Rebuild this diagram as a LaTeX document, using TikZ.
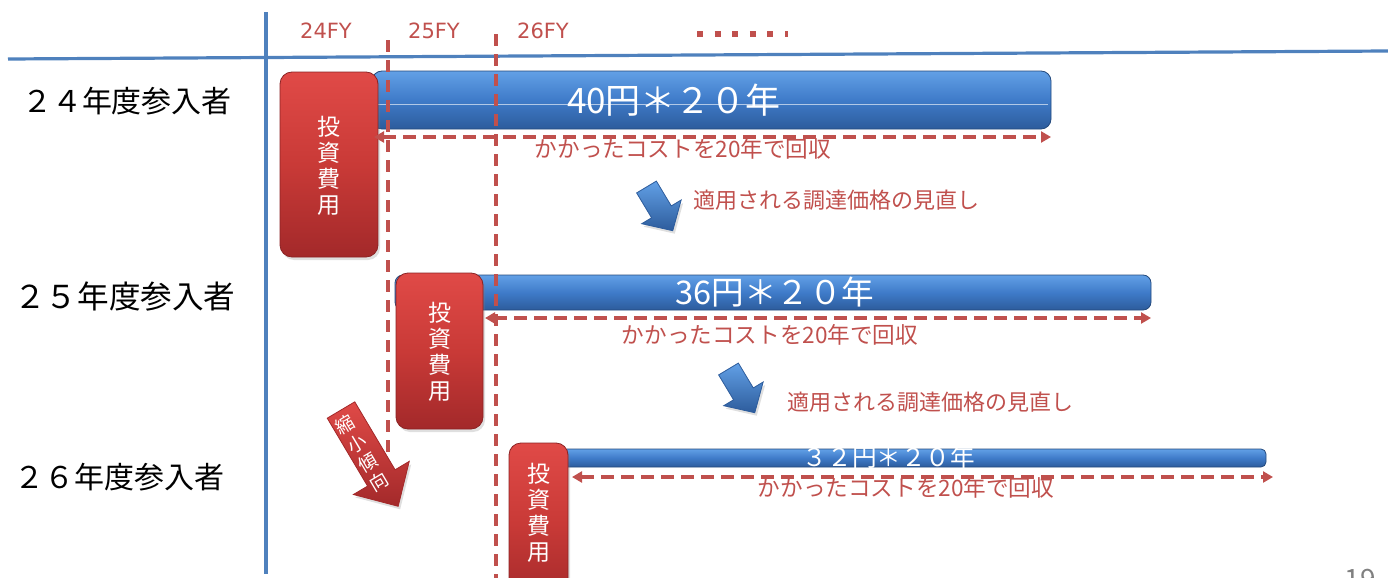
\documentclass[tikz,border=0pt]{standalone}
\usepackage{fontspec}
\setmainfont{Noto Sans CJK JP}
\newfontfamily\fyfont{DejaVu Sans}
\usetikzlibrary{arrows.meta,shadows}
\definecolor{axisblue}{HTML}{4F81BD}
\definecolor{accred}{HTML}{C0504D}
\definecolor{bartop}{HTML}{62A0E6}
\definecolor{barmid}{HTML}{3F7BC9}
\definecolor{barbot}{HTML}{2D5C9C}
\definecolor{boxtop}{HTML}{E04A47}
\definecolor{boxmid}{HTML}{C93A37}
\definecolor{boxbot}{HTML}{A3292A}
\begin{document}
\begin{tikzpicture}[x=0.5pt,y=-0.5pt,
  axisline/.style={draw=axisblue,line width=1.6pt},
  yearline/.style={draw=accred,line width=1.6pt,dash pattern=on 6pt off 4pt},
  costarrow/.style={draw=accred,line width=1.6pt,dash pattern=on 6.5pt off 3.5pt,{Triangle[length=5pt,width=5.5pt]}-{Triangle[length=5pt,width=5.5pt]}},
  rowlabel/.style={font=\fontsize{15}{18}\selectfont,text=black},
  fylabel/.style={font=\fyfont\fontsize{10.5}{12}\selectfont,text=accred},
  costtext/.style={font=\fontsize{11.3}{13}\selectfont,text=accred},
  reviewtext/.style={font=\fontsize{11}{13}\selectfont,text=accred,anchor=west},
  bartext/.style={font=\fontsize{17.5}{19}\selectfont,text=white},
  investtext/.style={font=\fontsize{11.5}{13}\selectfont,text=white,align=center},
  barfill/.style={top color=bartop,bottom color=barbot,middle color=barmid,draw=barbot!80!black,line width=0.4pt},
  boxfill/.style={top color=boxtop,bottom color=boxbot,middle color=boxmid,draw=boxbot!85!black,line width=0.4pt,
     drop shadow={opacity=0.25,shadow xshift=1pt,shadow yshift=-1.5pt}},
  bluearrow/.style={top color=bartop,bottom color=barbot,draw=barbot,line width=0.4pt,
     drop shadow={opacity=0.25,shadow xshift=1pt,shadow yshift=-1.5pt}},
  redarrow/.style={top color=boxtop,bottom color=boxbot,draw=boxbot,line width=0.4pt,
     drop shadow={opacity=0.25,shadow xshift=1pt,shadow yshift=-1.5pt}}
]
\useasboundingbox (0,0) rectangle (1388,578);

% axes
\coordinate (vtop) at (266,12);
\coordinate (vbot) at (266,574);
\coordinate (hleft) at (8,59);
\coordinate (hright) at (1388,51);
\draw[axisline] (vtop) -- (vbot);
\draw[axisline] (hleft) -- (hright);

% fiscal year labels
\node[fylabel] (fy24) at (326,31) {24FY};
\node[fylabel] (fy25) at (434,31) {25FY};
\node[fylabel] (fy26) at (543,31) {26FY};
\coordinate (dotsA) at (697,34);
\coordinate (dotsB) at (788,34);
\draw[draw=accred,line width=3pt,dash pattern=on 3pt off 5.8pt] (dotsA) -- (dotsB);

% row labels
\node[rowlabel] (r24) at (127,101) {２４年度参入者};
\node[rowlabel,font=\fontsize{15.8}{18}\selectfont] (r25) at (125,297) {２５年度参入者};
\node[rowlabel] (r26) at (120,477) {２６年度参入者};

% year dashed lines
\coordinate (y25top) at (388,40);
\coordinate (y25bot) at (388,452);
\coordinate (y26top) at (496,34);
\coordinate (y26bot) at (496,580);

% ---------- row 1 ----------
\path[barfill,rounded corners=5pt] (372,71) -- (1051,71) -- (1051,129) -- (372,129) -- cycle;
\draw[white,opacity=0.6,line width=0.4pt] (282,104) -- (1048,104);
\node[bartext] (b24) at (674,100) {40円＊２０年};
\node[boxfill,rounded corners=6pt,minimum width=49pt,minimum height=92.5pt,inner sep=0pt] (box24) at (329,164.5) {};
\node[investtext] (t24) at (329,166) {投\\資\\費\\用};
\coordinate (c24l) at (374,137);
\coordinate (c24r) at (1051,137);
\node[costtext] (k24) at (683,149) {かかったコストを20年で回収};

% ---------- row 2 ----------
\path[barfill,rounded corners=4pt] (395,275) -- (1151,275) -- (1151,310) -- (395,310) -- cycle;
\node[bartext,font=\fontsize{16.3}{18}\selectfont] (b25) at (775,292) {36円＊２０年};
\node[boxfill,rounded corners=6pt,minimum width=43.5pt,minimum height=78pt,inner sep=0pt] (box25) at (439.5,351) {};
\node[investtext] (t25) at (440,352) {投\\資\\費\\用};
\coordinate (c25l) at (485,318);
\coordinate (c25r) at (1151,318);
\node[costtext] (k25) at (770,335) {かかったコストを20年で回収};

% ---------- row 3 ----------
\path[barfill,rounded corners=2.5pt] (562,449) -- (1266,449) -- (1266,467) -- (562,467) -- cycle;
\node[bartext,font=\fontsize{12.3}{14}\selectfont] (b26) at (889,457) {３２円＊２０年};
\node[boxfill,rounded corners=6pt,minimum width=29.5pt,minimum height=80pt,inner sep=0pt] (box26) at (538.5,523) {};
\node[investtext] (t26) at (539,513) {投\\資\\費\\用};
\coordinate (c26l) at (572,477);
\coordinate (c26r) at (1273,477);
\node[costtext] (k26) at (906,488) {かかったコストを20年で回収};

% dashed year lines and cost arrows
\draw[yearline] (y25top) -- (y25bot);
\draw[yearline] (y26top) -- (y26bot);
\draw[costarrow] (c24l) -- (c24r);
\draw[costarrow] (c25l) -- (c25r);
\draw[costarrow] (c26l) -- (c26r);

% review arrows
\begin{scope}[shift={(646.5,187)},rotate=-59]
  \path[bluearrow] (0,-11.5) -- (29,-11.5) -- (29,-23) -- (51,0) -- (29,23) -- (29,11.5) -- (0,11.5) -- cycle;
\end{scope}
\node[reviewtext] (rv1) at (686,200) {適用される調達価格の見直し};
\begin{scope}[shift={(728.5,369)},rotate=-59]
  \path[bluearrow] (0,-11.5) -- (29,-11.5) -- (29,-23) -- (51,0) -- (29,23) -- (29,11.5) -- (0,11.5) -- cycle;
\end{scope}
\node[reviewtext] (rv2) at (780,402) {適用される調達価格の見直し};

% shrinking trend arrow
\begin{scope}[shift={(341,410)},rotate=-59.3]
  \path[redarrow] (0,-16) -- (79,-16) -- (79,-32.5) -- (112,0) -- (79,32.5) -- (79,16) -- (0,16) -- cycle;
\end{scope}
\node[font=\fontsize{9.3}{11}\selectfont,text=white,align=center,rotate=30.7] (shrink) at (362,453) {縮\\小\\傾\\向};

% page number
\node[font=\fontsize{14}{16}\selectfont,text=gray] (pg) at (1360,580) {19};
\end{tikzpicture}
\end{document}
